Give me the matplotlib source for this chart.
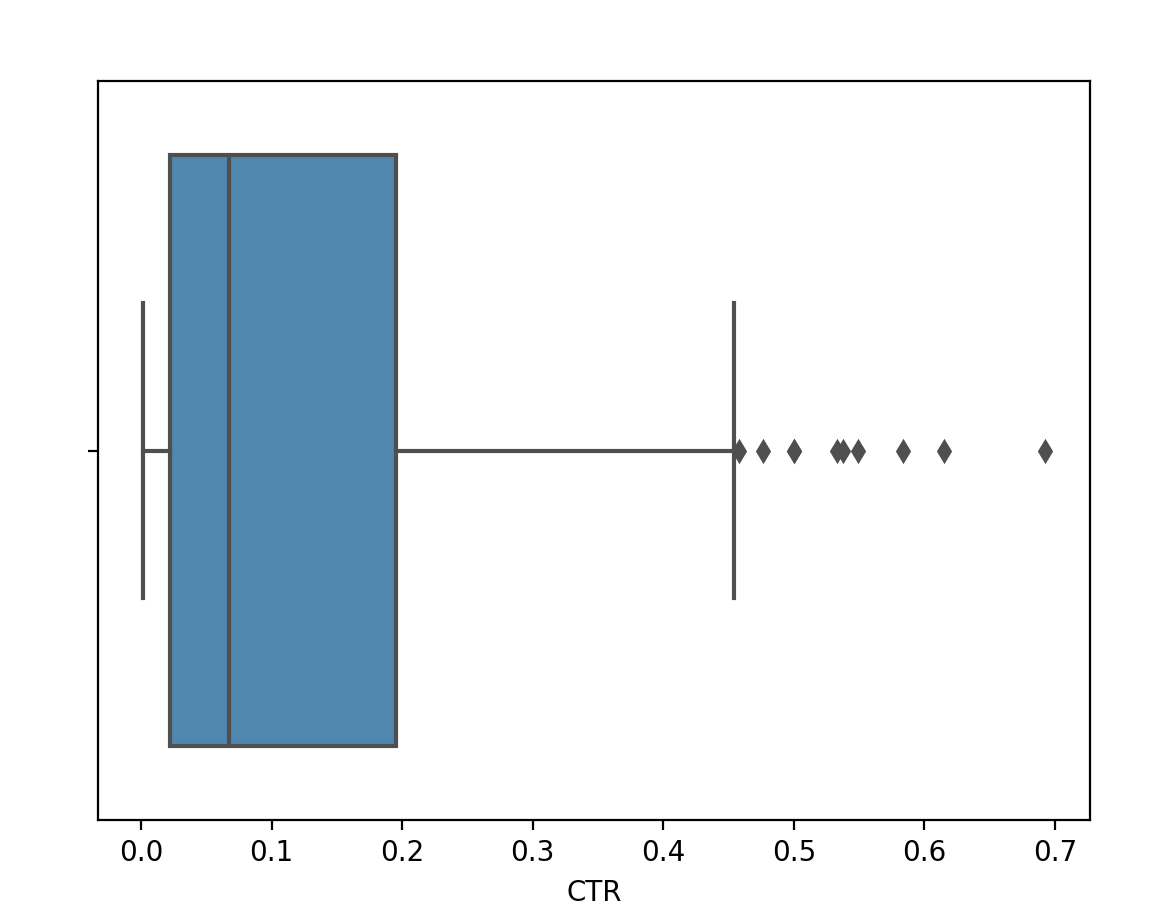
import matplotlib
matplotlib.use("Agg")
import matplotlib.pyplot as plt

# CTR box statistics
q1 = 0.0222
median = 0.0674
q3 = 0.1953
whisker_low = 0.0016
whisker_high = 0.4542
outliers = [0.458, 0.4764, 0.5, 0.5002, 0.533, 0.5376, 0.549, 0.5836, 0.615, 0.6923]

box_color = "#5087ae"
line_color = "#4f4f4f"

stats = [dict(med=median, q1=q1, q3=q3, whislo=whisker_low,
              whishi=whisker_high, fliers=outliers)]

fig = plt.figure(figsize=(5.8, 4.61), dpi=200)
ax = fig.add_axes([0.0845, 0.1106, 0.8552, 0.8015])

line_props = dict(color=line_color, linewidth=1.5)
ax.bxp(stats, positions=[0], widths=0.8, vert=False, patch_artist=True,
       boxprops=dict(facecolor=box_color, edgecolor=line_color, linewidth=1.5),
       medianprops=line_props, whiskerprops=line_props, capprops=line_props,
       flierprops=dict(marker="d", markerfacecolor=line_color,
                       markeredgecolor=line_color, markersize=5, linestyle="none"))

ax.set_ylim(0.5, -0.5)
ax.set_yticks([0])
ax.set_yticklabels([""])
ax.set_xlabel("CTR")
ax.autoscale(axis="x")
ax.margins(x=0.05)

fig.savefig("out.png", dpi=200)
